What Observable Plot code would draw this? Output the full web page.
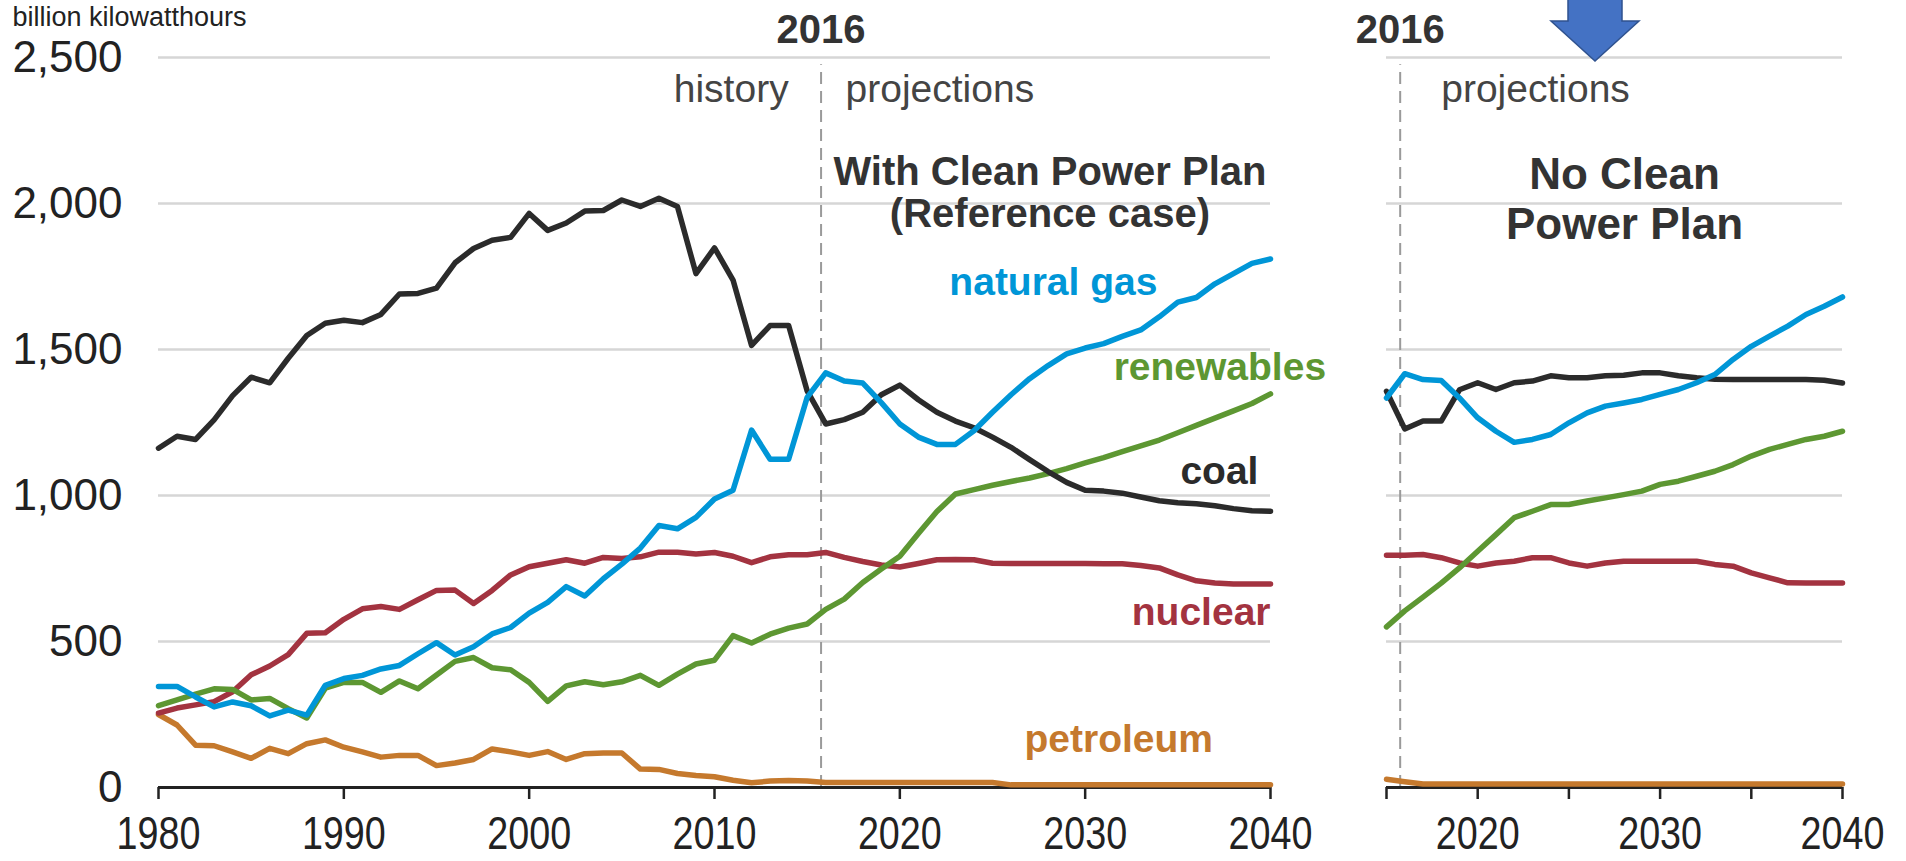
<!DOCTYPE html>
<html><head><meta charset="utf-8">
<script src="https://cdn.jsdelivr.net/npm/d3@7"></script>
<script src="https://cdn.jsdelivr.net/npm/@observablehq/plot@0.6"></script>
<style>
html,body{margin:0;padding:0;background:#fff;overflow:hidden;}
#wrap{position:relative;width:1906px;height:861px;font-family:"Liberation Sans",Arial,sans-serif;background:#fff;}
#left,#right,#arrow{position:absolute;top:0;}
#left{left:0;} #right{left:1300px;} #arrow{left:0;pointer-events:none;}
</style></head><body>
<div id="wrap"><div id="left"></div><div id="right"></div>
<svg id="arrow" width="1906" height="861"><polygon points="1568,-4 1622,-4 1622,21 1639,21 1595,61 1551,21 1568,21" fill="#4472C4" stroke="#2F528F" stroke-width="1.5"/></svg>
</div>
<script>
// ---------- data ----------
const seriesNames = ["petroleum", "nuclear", "renewables", "coal", "natural gas"];
const seriesColors = ["#c5792d", "#a33340", "#5d9732", "#2b2b2b", "#0096d7"];

const yTicks = [0, 500, 1000, 1500, 2000, 2500];
const leftTicks = [1980, 1990, 2000, 2010, 2020, 2030, 2040];
const rightTickMarks = [2015, 2020, 2025, 2030, 2035, 2040];
const rightTickLabels = [2020, 2030, 2040];
const dividerYear = 2015.75;

// With Clean Power Plan (Reference case), 1980-2040
const leftYears = d3.range(1980, 2041);
const coalRef = [1162,1203,1192,1259,1342,1405,1386,1470,1548,1590,1600,1592,1620,1690,1692,1710,1797,1846,1874,1884,
  1966,1908,1933,1974,1976,2012,1990,2018,1990,1760,1848,1738,1514,1582,1582,1358,1245,1260,1285,1345,
  1378,1328,1285,1255,1232,1200,1165,1123,1082,1045,1018,1015,1008,995,982,975,972,965,955,948,946];
const gasRef = [346,346,310,276,293,280,245,265,248,350,373,384,406,418,458,496,454,482,526,548,
  597,634,688,656,715,765,820,897,886,925,988,1018,1224,1124,1124,1336,1420,1392,1385,1318,
  1245,1200,1175,1175,1222,1285,1345,1400,1445,1485,1505,1520,1545,1567,1612,1662,1678,1725,1760,1795,1810];
const nuclearRef = [255,272,283,294,328,386,416,455,528,530,576,612,620,610,643,675,676,630,675,728,
  756,768,780,768,788,784,790,806,806,800,805,792,770,790,797,797,805,788,774,762,
  755,767,780,781,780,768,767,767,767,767,767,766,766,760,752,728,708,700,697,697,697];
const renewRef = [280,300,320,338,336,300,305,270,238,340,360,360,326,365,338,385,432,445,410,403,
  360,295,348,362,352,362,384,350,388,423,436,520,495,525,546,560,610,645,702,748,
  792,870,945,1005,1020,1035,1048,1060,1075,1092,1112,1130,1150,1170,1190,1215,1240,1265,1290,1315,1348];
const petroRef = [250,214,145,143,122,100,134,116,150,163,138,122,104,110,110,75,84,96,132,122,
  110,123,96,116,118,118,63,62,48,41,37,25,16,22,24,22,17,17,17,17,
  17,17,17,17,17,17,9,9,9,9,9,9,9,9,9,9,9,9,9,9,9];

// No Clean Power Plan, 2015-2040
const rightYears = d3.range(2015, 2041);
const coalNo = [1357,1228,1255,1255,1362,1386,1363,1386,1392,1410,1403,1403,1410,1412,1420,1420,1410,1403,1398,1397,1397,1397,1397,1397,1395,1385];
const gasNo = [1334,1417,1397,1394,1334,1266,1220,1182,1192,1209,1249,1283,1306,1317,1329,1346,1363,1386,1414,1466,1511,1546,1580,1620,1648,1680];
const nuclearNo = [795,795,798,787,769,758,769,775,787,787,769,758,769,775,775,775,775,775,764,758,735,718,701,700,700,700];
const renewNo = [550,605,652,700,752,809,866,924,946,969,969,981,992,1003,1015,1038,1049,1066,1083,1106,1135,1158,1175,1192,1203,1220];
const petroNo = [28,20,12,12,12,12,12,12,12,12,12,12,12,12,12,12,12,12,12,12,12,12,12,12,12,12];

// ---------- build tidy tables ----------
function tidy(years, map) {
  const out = [];
  for (const name of seriesNames) map[name].forEach((v, i) => out.push({year: years[i], value: v, series: name}));
  return out;
}
const leftData = tidy(leftYears, {"coal": coalRef, "natural gas": gasRef, "nuclear": nuclearRef, "renewables": renewRef, "petroleum": petroRef});
const rightData = tidy(rightYears, {"coal": coalNo, "natural gas": gasNo, "nuclear": nuclearNo, "renewables": renewNo, "petroleum": petroNo});
const colorOf = Object.fromEntries(seriesNames.map((s, i) => [s, seriesColors[i]]));

const FONT = '"Liberation Sans", Arial, sans-serif';
const common = {
  height: 861, marginTop: 57, marginBottom: 74,
  color: {domain: seriesNames, range: seriesColors},
  style: {fontFamily: FONT, background: "transparent", overflow: "visible"}
};

function label(text, x, y, opts) {
  return Plot.text([text], Object.assign({x, y, text: d => d, lineAnchor: "bottom", fontWeight: "bold"}, opts));
}

const left = Plot.plot({
  ...common,
  width: 1380, marginLeft: 158, marginRight: 110,
  x: {domain: [1980, 2040]},
  y: {domain: [0, 2500]},
  marks: [
    Plot.gridY(yTicks.filter(d => d > 0), {stroke: "#d6d6d6", strokeOpacity: 1, strokeWidth: 2.5}),
    Plot.ruleX([dividerYear], {y1: 0, y2: 2475, stroke: "#9a9a9a", strokeWidth: 2, strokeDasharray: "12,7"}),
    Plot.axisY({ticks: yTicks, tickSize: 0, tickPadding: 36, fontSize: 44, tickFormat: d3.format(","), label: null, fill: "#222"}),
    Plot.axisX({ticks: leftTicks, tickSize: 12, tickPadding: 17, fontSize: 46, tickFormat: d => String(d), label: null, stroke: "#222", strokeWidth: 2.5, fill: "#222"}),
    Plot.ruleY([0], {stroke: "#222", strokeWidth: 3}),
    Plot.line(leftData, {x: "year", y: "value", z: "series", stroke: "series", strokeWidth: 5.5, strokeLinejoin: "round"}),
    Plot.text(["billion kilowatthours"], {frameAnchor: "top-left", dx: -146, dy: -32, text: d => d, textAnchor: "start", lineAnchor: "bottom", fontSize: 27, fill: "#222"}),
    label("2016", dividerYear, 2550, {fontSize: 40, fill: "#333", textAnchor: "middle"}),
    label("history", 2014.0, 2349, {fontSize: 39, fill: "#444", fontWeight: "normal", textAnchor: "end"}),
    label("projections", 2017.07, 2349, {fontSize: 39, fill: "#444", fontWeight: "normal", textAnchor: "start"}),
    label("With Clean Power Plan", 2028.1, 2062, {fontSize: 40, fill: "#333", textAnchor: "middle"}),
    label("(Reference case)", 2028.1, 1921, {fontSize: 40, fill: "#333", textAnchor: "middle"}),
    label("natural gas", 2033.9, 1685, {fontSize: 39, fill: colorOf["natural gas"], textAnchor: "end"}),
    label("renewables", 2043.0, 1394, {fontSize: 39, fill: colorOf["renewables"], textAnchor: "end"}),
    label("coal", 2039.35, 1041, {fontSize: 39, fill: colorOf["coal"], textAnchor: "end"}),
    label("nuclear", 2040.0, 555, {fontSize: 39, fill: colorOf["nuclear"], textAnchor: "end"}),
    label("petroleum", 2036.9, 120, {fontSize: 39, fill: colorOf["petroleum"], textAnchor: "end"})
  ]
});

const right = Plot.plot({
  ...common,
  width: 606, marginLeft: 86, marginRight: 64,
  x: {domain: [2015, 2040]},
  y: {domain: [0, 2500], axis: null},
  marks: [
    Plot.gridY(yTicks.filter(d => d > 0), {stroke: "#d6d6d6", strokeOpacity: 1, strokeWidth: 2.5}),
    Plot.ruleX([dividerYear], {y1: 0, y2: 2475, stroke: "#9a9a9a", strokeWidth: 2, strokeDasharray: "12,7"}),
    Plot.axisX({ticks: rightTickMarks, tickSize: 12, tickFormat: () => "", label: null, stroke: "#222", strokeWidth: 2.5}),
    Plot.axisX({ticks: rightTickLabels, tickSize: 0, tickPadding: 29, fontSize: 46, tickFormat: d => String(d), label: null, fill: "#222"}),
    Plot.ruleY([0], {stroke: "#222", strokeWidth: 3}),
    Plot.line(rightData, {x: "year", y: "value", z: "series", stroke: "series", strokeWidth: 5.5, strokeLinejoin: "round"}),
    label("2016", dividerYear, 2550, {fontSize: 40, fill: "#333", textAnchor: "middle"}),
    label("projections", 2018.0, 2349, {fontSize: 39, fill: "#444", fontWeight: "normal", textAnchor: "start"}),
    label("No Clean", 2028.05, 2051, {fontSize: 44, fill: "#333", textAnchor: "middle"}),
    label("Power Plan", 2028.05, 1880, {fontSize: 44, fill: "#333", textAnchor: "middle"})
  ]
});

document.getElementById("left").appendChild(left);
document.getElementById("right").appendChild(right);

// condense the x tick labels to match the reference's narrow lettering
for (const svg of [left, right]) {
  svg.querySelectorAll('g[aria-label="x-axis tick label"] text').forEach(t => {
    if (!t.textContent) return;
    const L = t.getComputedTextLength();
    t.setAttribute("textLength", (L * 0.82).toFixed(1));
    t.setAttribute("lengthAdjust", "spacingAndGlyphs");
  });
}
</script>
</body></html>
